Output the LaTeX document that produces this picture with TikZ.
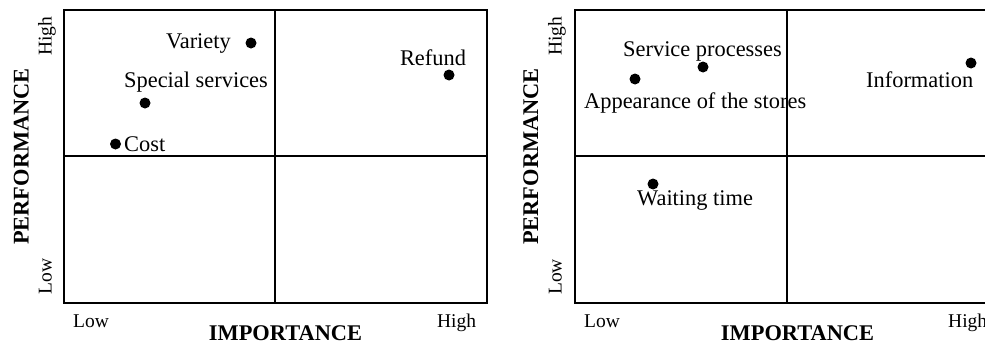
\documentclass[tikz,border=0pt]{standalone}
\usepackage{fontspec}
\setmainfont{Liberation Serif}
\begin{document}
\begin{tikzpicture}[x=1pt,y=-1pt,
  frame/.style={line width=2pt},
  dot/.style={circle,fill=black,inner sep=0pt,minimum size=11pt},
  lbl/.style={inner sep=0pt,font=\fontsize{22.4}{26}\selectfont},
  tick/.style={inner sep=0pt,font=\fontsize{19.5}{23}\selectfont},
  axis/.style={inner sep=0pt,font=\fontsize{22.4}{26}\selectfont\bfseries}]
\clip (0,0) rectangle (985,343);
\fill[white] (0,0) rectangle (985,343);

% ---- left matrix ----
\coordinate (Ltl) at (64,10);
\coordinate (Lbr) at (487,303);
\draw[frame] (Ltl) rectangle (Lbr);
\coordinate (Lmt) at (275,10);
\coordinate (Lmb) at (275,303);
\coordinate (Lml) at (64,156);
\coordinate (Lmr) at (487,156);
\draw[frame] (Lmt) -- (Lmb);
\draw[frame] (Lml) -- (Lmr);

\node[dot] (variety) at (251,43) {};
\node[dot] (refund) at (449,75) {};
\node[dot] (special) at (145,103) {};
\node[dot] (cost) at (115.5,144) {};

\node[lbl,anchor=base east] (tvariety) at (231,48.5) {Variety};
\node[lbl,anchor=base] (trefund) at (433,65) {Refund};
\node[lbl,anchor=base west] (tspecial) at (124,87.5) {Special services};
\node[lbl,anchor=base west] (tcost) at (124,151.5) {Cost};

\node[tick,anchor=base,rotate=90] (lyhigh) at (51.5,36) {High};
\node[tick,anchor=base,rotate=90] (lylow) at (51.5,276.5) {Low};
\node[axis,anchor=base,rotate=90] (lyaxis) at (28.5,156.5) {PERFORMANCE};
\node[tick,anchor=base] (lxlow) at (91,327) {Low};
\node[tick,anchor=base] (lxhigh) at (456.5,327) {High};
\node[axis,anchor=base] (lxaxis) at (285.5,340) {IMPORTANCE};

% ---- right matrix ----
\coordinate (Rtl) at (575,9.5);
\coordinate (Rbr) at (999,303);
\draw[frame] (Rtl) rectangle (Rbr);
\coordinate (Rmt) at (787,9.5);
\coordinate (Rmb) at (787,303);
\coordinate (Rml) at (575,156);
\coordinate (Rmr) at (999,156);
\draw[frame] (Rmt) -- (Rmb);
\draw[frame] (Rml) -- (Rmr);

\node[dot] (service) at (703,67) {};
\node[dot] (appear) at (635,79) {};
\node[dot] (info) at (971,63) {};
\node[dot] (waiting) at (653,184) {};

\node[lbl,anchor=base west] (tservice) at (623,56.5) {Service processes};
\node[lbl,anchor=base west] (tappear) at (584,108.5) {Appearance of the stores};
\node[lbl,anchor=base west] (tinfo) at (866,87.5) {Information};
\node[lbl,anchor=base west] (twaiting) at (637,205) {Waiting time};

\node[tick,anchor=base,rotate=90] (ryhigh) at (561.5,36) {High};
\node[tick,anchor=base,rotate=90] (rylow) at (561.5,277) {Low};
\node[axis,anchor=base,rotate=90] (ryaxis) at (538,156.5) {PERFORMANCE};
\node[tick,anchor=base] (rxlow) at (602,327) {Low};
\node[tick,anchor=base west] (rxhigh) at (948,327) {High};
\node[axis,anchor=base] (rxaxis) at (797.5,340) {IMPORTANCE};
\end{tikzpicture}
\end{document}
